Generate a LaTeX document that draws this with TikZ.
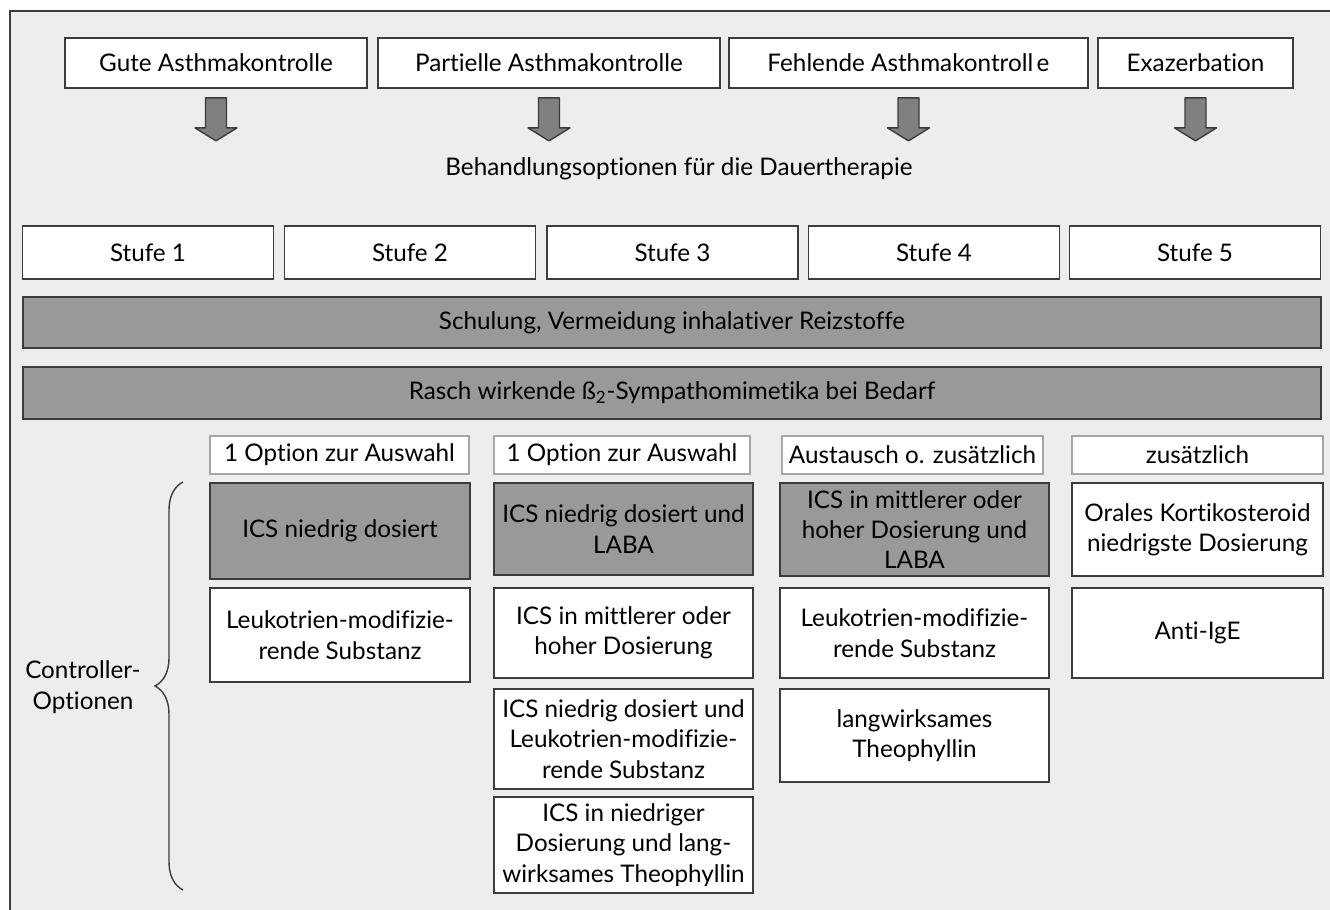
\documentclass[tikz,border=0pt]{standalone}
\usepackage{fontspec}
\setmainfont{Lato}[Ligatures=NoCommon]
\usepackage{tikz}
\usetikzlibrary{%
  positioning
 ,calc
 ,decorations.pathreplacing
}
\definecolor{rahmen}{HTML}{EDEDED}
\definecolor{dunkel}{HTML}{999999}
\definecolor{kante}{HTML}{3C3C3C}
\tikzstyle{kasten}=[draw=kante,line width=1pt,fill=white,align=center,inner sep=2pt,font=\fontsize{13.8}{17.3}\selectfont]
\tikzstyle{grau}=[kasten,fill=dunkel]
\tikzstyle{kopf}=[kasten,draw=black!35,line width=0.8pt]
\tikzstyle{pfeil}=[draw=kante,fill=black!50,line width=0.8pt,line join=round]
\tikzstyle{klammer}=[draw=kante,line width=0.8pt,decorate,decoration={brace,amplitude=0.56cm}]

\begin{document}
\begin{tikzpicture}[x=0.02cm,y=-0.02cm]
  \useasboundingbox (0,0) rectangle (1330,910);
  \fill[rahmen] (10,11) rectangle (1330,910);
  \draw[kante,line width=0.9pt] (10,910) -- (10,11) -- (1330,11);

  % Kontrollgrad
  \node[kasten,minimum width=6.04cm,minimum height=1cm] (gute)     at (216,63)    {Gute Asthmakontrolle};
  \node[kasten,minimum width=6.84cm,minimum height=1cm] (partiell) at (549,63)    {Partielle Asthmakontrolle};
  \node[kasten,minimum width=7.18cm,minimum height=1cm] (fehlend)  at (908.5,63)  {Fehlende Asthmakontroll\kern2pt e};
  \node[kasten,minimum width=3.9cm,minimum height=1cm]  (exazerb)  at (1195.5,63) {Exazerbation};
  \foreach \k in {gute,partiell,fehlend,exazerb}
    \draw[pfeil] (\k.south) ++(-10.5,9) -- ++(0,30) -- ++(-10.5,0) -- ++(21,13)
      -- ++(21,-13) -- ++(-10.5,0) -- ++(0,-30) -- cycle;
  \node[font=\fontsize{13.8}{17.3}\selectfont] (behandlung) at (679,169) {Behandlungsoptionen für die Dauertherapie};

  % Stufen
  \foreach \i/\xx in {1/148,2/410,3/672.5,4/934,5/1195}
    \node[kasten,minimum width=5.02cm,minimum height=1.06cm] (stufe\i) at (\xx,252.5) {Stufe \i};
  \node[grau,minimum width=25.96cm,minimum height=1.02cm] (schulung) at (672,322.5) {Schulung, Vermeidung inhalativer Reizstoffe};
  \node[grau,minimum width=25.96cm,minimum height=1.04cm] (rasch) at (672,393) {Rasch wirkende ß\textsubscript{2}-Sympathomimetika bei Bedarf};

  % Controller-Optionen
  \node[kopf,minimum width=5.18cm,minimum height=0.76cm] (kopfA) at (339.5,455)  {1 Option zur Auswahl};
  \node[kopf,minimum width=5.12cm,minimum height=0.76cm] (kopfB) at (622,455)    {1 Option zur Auswahl};
  \node[kopf,minimum width=5.22cm,minimum height=0.76cm] (kopfC) at (912.5,455)  {Austausch o. zusätzlich};
  \node[kopf,minimum width=5.02cm,minimum height=0.76cm] (kopfD) at (1197.5,455) {zusätzlich};

  \node[grau,minimum width=5.2cm,minimum height=1.92cm]  (a1) at (340,531) {ICS niedrig dosiert};
  \node[kasten,minimum width=5.2cm,minimum height=1.88cm] (a2) at (340,635) {Leukotrien-modifizie-\\rende Substanz};

  \node[grau,minimum width=5.18cm,minimum height=1.84cm]  (b1) at (623.5,529) {ICS niedrig dosiert und\\LABA};
  \node[kasten,minimum width=5.18cm,minimum height=1.8cm]  (b2) at (623.5,633) {ICS in mittlerer oder\\hoher Dosierung};
  \node[kasten,minimum width=5.18cm,minimum height=2cm]    (b3) at (623.5,739) {ICS niedrig dosiert und\\Leukotrien-modifizie-\\rende Substanz};
  \node[kasten,minimum width=5.18cm,minimum height=1.92cm] (b4) at (623.5,845) {ICS in niedriger\\Dosierung und lang-\\wirksames Theophyllin};

  \node[grau,minimum width=5.38cm,minimum height=1.86cm]  (c1) at (914.5,529.5) {ICS in mittlerer oder\\hoher Dosierung und\\LABA};
  \node[kasten,minimum width=5.38cm,minimum height=1.8cm]  (c2) at (914.5,633)   {Leukotrien-modifizie-\\rende Substanz};
  \node[kasten,minimum width=5.38cm,minimum height=1.86cm] (c3) at (914.5,735.5) {langwirksames\\Theophyllin};

  \node[kasten,minimum width=5.02cm,minimum height=1.86cm] (d1) at (1197.5,529.5) {Orales Kortikosteroid\\niedrigste Dosierung};
  \node[kasten,minimum width=5.02cm,minimum height=1.8cm]  (d2) at (1197.5,633)   {Anti-IgE};

  \coordinate (klu) at (183,890);
  \coordinate (klo) at (183,482);
  \draw[klammer] (klu) -- (klo);
  \node[align=center,font=\fontsize{13.8}{17.3}\selectfont] (ctrl) at (83,687) {Controller-\\Optionen};
\end{tikzpicture}
\end{document}
